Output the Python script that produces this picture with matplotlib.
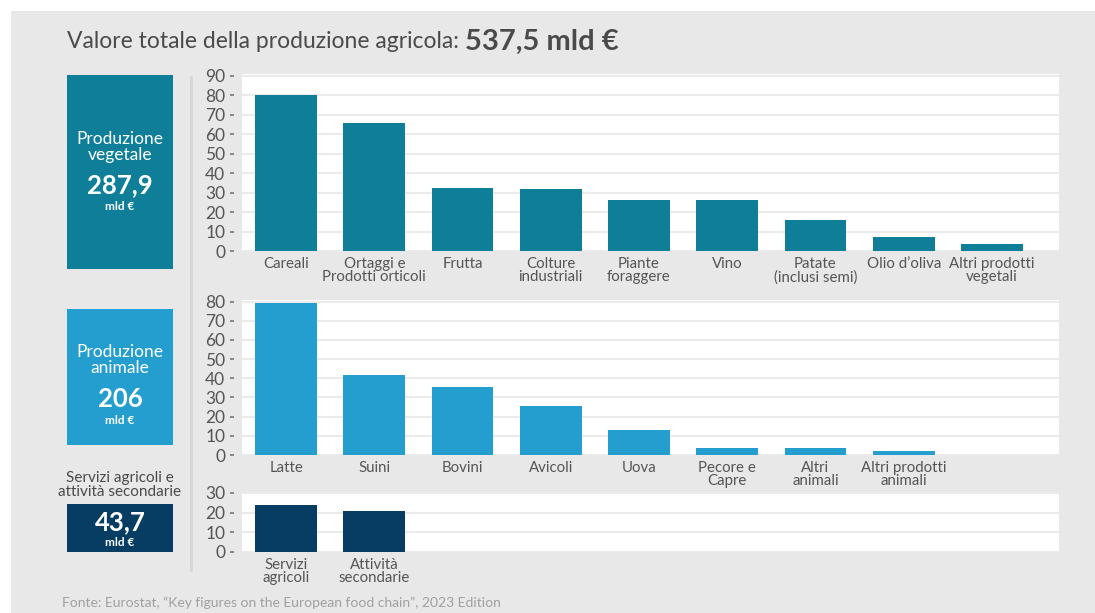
import matplotlib
matplotlib.use("Agg")
import matplotlib.pyplot as plt
from matplotlib.patches import Rectangle
from matplotlib.lines import Line2D

plt.rcParams['font.family'] = ['Lato', 'DejaVu Sans']

# ---------------- data ----------------
veg_categories = ["Careali", "Ortaggi e\nProdotti orticoli", "Frutta", "Colture\nindustriali",
                  "Piante\nforaggere", "Vino", "Patate\n(inclusi semi)", "Olio d\u2019oliva",
                  "Altri prodotti\nvegetali"]
veg_values = [80.2, 65.8, 32.2, 32.1, 26.2, 26.1, 16.0, 7.0, 3.5]
veg_ticks = [0, 10, 20, 30, 40, 50, 60, 70, 80, 90]

ani_categories = ["Latte", "Suini", "Bovini", "Avicoli", "Uova", "Pecore e\nCapre",
                  "Altri\nanimali", "Altri prodotti\nanimali"]
ani_values = [79.3, 41.6, 35.4, 25.4, 12.9, 3.5, 3.5, 1.9]
ani_ticks = [0, 10, 20, 30, 40, 50, 60, 70, 80]

srv_categories = ["Servizi\nagricoli", "Attivit\u00e0\nsecondarie"]
srv_values = [24.1, 21.0]
srv_ticks = [0, 10, 20, 30]

title_regular = "Valore totale della produzione agricola: "
title_bold = "537,5 mld \u20ac"

box_titles = ["Produzione\nvegetale", "Produzione\nanimale"]
box_totals = ["287,9", "206", "43,7"]
box_unit = "mld \u20ac"
srv_box_title = "Servizi agricoli e\nattivit\u00e0 secondarie"
source = "Fonte: Eurostat, \u201cKey figures on the European food chain\u201d, 2023 Edition"

# ---------------- style ----------------
W, H = 1095, 613
C_VEG = "#0f7f99"
C_ANI = "#239ece"
C_SRV = "#083d63"
BG = "#e8e8e8"
GRID = "#ebebeb"
TXT = "#4a4a4a"

fig = plt.figure(figsize=(W / 100, H / 100), dpi=100)
fig.patch.set_facecolor("white")
fig.add_artist(Rectangle((11 / W, 0), 1, 1 - 11 / H, transform=fig.transFigure,
                         facecolor=BG, edgecolor="none", zorder=-10))


def fx(px):
    return px / W


def fy(py):
    return 1 - py / H


def make_axes(top, bottom, cats, vals, ticks, ymax, color):
    left, right = 242, 1059
    ax = fig.add_axes([fx(left), fy(bottom), (right - left) / W, (bottom - top) / H])
    ax.set_facecolor("white")
    x = list(range(len(cats)))
    ax.bar(x, vals, width=0.70, color=color, zorder=3)
    ax.set_xlim(-0.5, 8.76)
    ax.set_ylim(0, ymax)
    ax.set_yticks(ticks)
    ax.set_yticklabels([str(t) for t in ticks])
    ax.set_xticks(x)
    ax.set_xticklabels(cats)
    for s in ax.spines.values():
        s.set_visible(False)
    ax.spines['left'].set_position(('outward', 6))
    ax.grid(axis="y", color=GRID, linewidth=1.5, zorder=0)
    ax.set_axisbelow(True)
    ax.tick_params(axis="y", length=3, width=1.2, color="#777777", pad=3,
                   labelsize=12.5, labelcolor="#555555")
    ax.tick_params(axis="x", length=0, pad=4, labelsize=10.8, labelcolor="#555555")
    for lab in ax.get_xticklabels():
        lab.set_linespacing(0.95)
    return ax


ax1 = make_axes(74, 251, veg_categories, veg_values, veg_ticks, 91, C_VEG)
ax2 = make_axes(300, 455, ani_categories, ani_values, ani_ticks, 80.8, C_ANI)
ax3 = make_axes(492, 552, srv_categories, srv_values, srv_ticks, 30.5, C_SRV)

# separator line
fig.add_artist(Line2D([fx(190.5), fx(190.5)], [fy(77), fy(570)], transform=fig.transFigure,
                      color="#d6d6d6", linewidth=2))

# left boxes
def box(x0, y0, x1, y1, color):
    fig.add_artist(Rectangle((fx(x0), fy(y1)), (x1 - x0) / W, (y1 - y0) / H,
                             transform=fig.transFigure, facecolor=color, edgecolor="none"))

cx = fx(120)
box(67, 75, 173, 269, C_VEG)
fig.text(cx, fy(147), box_titles[0], ha="center", va="center", color="white",
         fontsize=12.5, linespacing=0.95)
fig.text(cx, fy(185), box_totals[0], ha="center", va="center", color="white",
         fontsize=18.5, fontweight="bold")
fig.text(cx, fy(207), box_unit, ha="center", va="center", color="white",
         fontsize=8.5, fontweight="bold")

box(67, 309, 173, 445, C_ANI)
fig.text(cx, fy(360), box_titles[1], ha="center", va="center", color="white",
         fontsize=12.5, linespacing=0.95)
fig.text(cx, fy(399), box_totals[1], ha="center", va="center", color="white",
         fontsize=18.5, fontweight="bold")
fig.text(cx, fy(420), box_unit, ha="center", va="center", color="white",
         fontsize=8.5, fontweight="bold")

fig.text(cx, fy(485), srv_box_title, ha="center", va="center", color=TXT,
         fontsize=11, linespacing=0.95)
box(67, 504, 173, 552, C_SRV)
fig.text(cx, fy(522), box_totals[2], ha="center", va="center", color="white",
         fontsize=18.5, fontweight="bold")
fig.text(cx, fy(543), box_unit, ha="center", va="center", color="white",
         fontsize=8.5, fontweight="bold")

# title
t1 = fig.text(fx(67), fy(42), title_regular, ha="left", va="center", color=TXT,
              fontsize=16.5)
fig.canvas.draw()
bb = t1.get_window_extent()
fig.text(bb.x1 / W, fy(42), title_bold, ha="left", va="center", color=TXT,
         fontsize=21, fontweight="bold")

# source
fig.text(fx(62), fy(603), source, ha="left", va="center", color="#a0a0a0", fontsize=10)

fig.savefig("out.png", dpi=100, facecolor=fig.get_facecolor())
